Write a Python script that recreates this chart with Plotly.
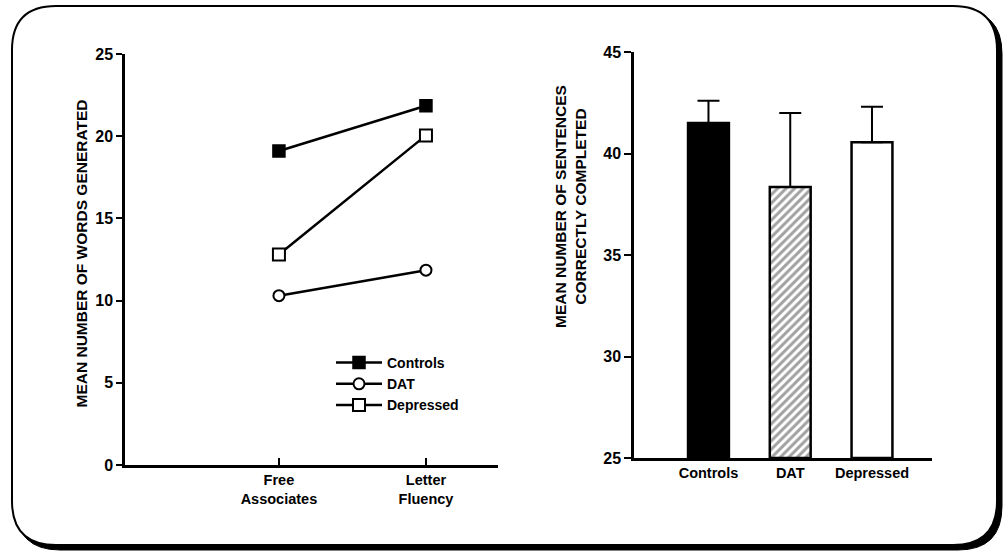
import plotly.graph_objects as go

# ---- data ----
tasks = ["Free Associates", "Letter Fluency"]
task_labels = ["Free<br>Associates", "Letter<br>Fluency"]
controls_words = [19.1, 21.85]
dat_words = [10.3, 11.85]
depressed_words = [12.8, 20.05]

groups = ["Controls", "DAT", "Depressed"]
sentences_mean = [41.5, 38.35, 40.55]
sentences_err = [1.1, 3.65, 1.75]

W, H = 1005, 555
FONT = "Liberation Sans, Arial, sans-serif"

fig = go.Figure()

line_style = dict(color="black", width=2.5)
fig.add_trace(go.Scatter(x=tasks, y=controls_words, name="Controls", mode="lines+markers",
                         line=line_style,
                         marker=dict(symbol="square", size=12, color="black",
                                     line=dict(color="black", width=1.5)),
                         xaxis="x", yaxis="y"))
fig.add_trace(go.Scatter(x=tasks, y=dat_words, name="DAT", mode="lines+markers",
                         line=line_style,
                         marker=dict(symbol="circle", size=11, color="white",
                                     line=dict(color="black", width=2)),
                         xaxis="x", yaxis="y"))
fig.add_trace(go.Scatter(x=tasks, y=depressed_words, name="Depressed", mode="lines+markers",
                         line=line_style,
                         marker=dict(symbol="square", size=12, color="white",
                                     line=dict(color="black", width=2)),
                         xaxis="x", yaxis="y"))

fig.add_trace(go.Bar(x=groups, y=[m - 25 for m in sentences_mean], base=25,
                     width=0.5, showlegend=False,
                     marker=dict(color=["black", "white", "white"],
                                 line=dict(color="black", width=2.5),
                                 pattern=dict(shape=["", "/", ""], fgcolor="black",
                                              bgcolor="white", size=6, solidity=0.5)),
                     error_y=dict(type="data", array=sentences_err, arrayminus=[0, 0, 0],
                                  symmetric=False, color="black", thickness=2, width=11),
                     xaxis="x2", yaxis="y2"))


def px(x):
    return x / W


def py(y):
    return 1 - y / H


def rounded(x0, y0, x1, y1, r):
    rx, ry = r / W, r / H
    X0, X1 = px(x0), px(x1)
    Yt, Yb = py(y0), py(y1)
    return (f"M {X0 + rx},{Yt} L {X1 - rx},{Yt} Q {X1},{Yt} {X1},{Yt - ry} "
            f"L {X1},{Yb + ry} Q {X1},{Yb} {X1 - rx},{Yb} "
            f"L {X0 + rx},{Yb} Q {X0},{Yb} {X0},{Yb + ry} "
            f"L {X0},{Yt - ry} Q {X0},{Yt} {X0 + rx},{Yt} Z")


shapes = [
    dict(type="path", xref="paper", yref="paper", layer="below",
         path=rounded(16, 10, 1002, 550, 44), fillcolor="black", line=dict(color="black", width=1)),
    dict(type="path", xref="paper", yref="paper", layer="below",
         path=rounded(12, 6, 997, 545, 44), fillcolor="white", line=dict(color="black", width=2)),
]

ytickfont = dict(family=FONT, size=16, color="black", weight="bold")
xtickfont = dict(family=FONT, size=14.5, color="black", weight="bold")

fig.update_layout(
    width=W, height=H,
    margin=dict(l=0, r=0, t=0, b=0, pad=0, autoexpand=False),
    paper_bgcolor="white", plot_bgcolor="rgba(0,0,0,0)",
    font=dict(family=FONT, color="black", weight="bold"),
    shapes=shapes,
    showlegend=True,
    legend=dict(x=px(331), y=py(347), xanchor="left", yanchor="top",
                bgcolor="rgba(0,0,0,0)", font=dict(family=FONT, size=14, color="black", weight="bold"),
                itemwidth=46, tracegroupgap=0),
    xaxis=dict(domain=[px(125), px(498)], anchor="y", type="category",
               range=[-1.047, 1.49], tickvals=tasks, ticktext=task_labels,
               showline=True, linecolor="black", linewidth=2.5, ticks="inside",
               ticklen=7, tickwidth=2, tickcolor="black", showgrid=False, zeroline=False,
               tickfont=xtickfont, automargin=False),
    yaxis=dict(domain=[py(465), py(54)], anchor="x", range=[0, 25],
               tickvals=[0, 5, 10, 15, 20, 25],
               showline=True, linecolor="black", linewidth=2.5, ticks="outside",
               ticklen=6, tickwidth=2, tickcolor="black", showgrid=False, zeroline=False,
               tickfont=ytickfont, automargin=False),
    xaxis2=dict(domain=[px(634), px(932)], anchor="y2", type="category",
                range=[-0.911, 2.734],
                showline=True, linecolor="black", linewidth=2.5, ticks="",
                showgrid=False, zeroline=False, tickfont=xtickfont, automargin=False),
    yaxis2=dict(domain=[py(458), py(52)], anchor="x2", range=[25, 45],
                tickvals=[25, 30, 35, 40, 45],
                showline=True, linecolor="black", linewidth=2.5, ticks="outside",
                ticklen=7, tickwidth=2, tickcolor="black", showgrid=False, zeroline=False,
                tickfont=ytickfont, automargin=False),
    annotations=[
        dict(text="MEAN NUMBER OF WORDS GENERATED", x=px(70), y=py(254), xref="paper", yref="paper",
             textangle=-90, showarrow=False, font=dict(family=FONT, size=15.5, color="black", weight="bold")),
        dict(text="MEAN NUMBER OF SENTENCES<br>CORRECTLY COMPLETED", x=px(571), y=py(207),
             xref="paper", yref="paper", textangle=-90, showarrow=False,
             font=dict(family=FONT, size=15.5, color="black", weight="bold")),
    ],
)

fig.write_html("out.html")
